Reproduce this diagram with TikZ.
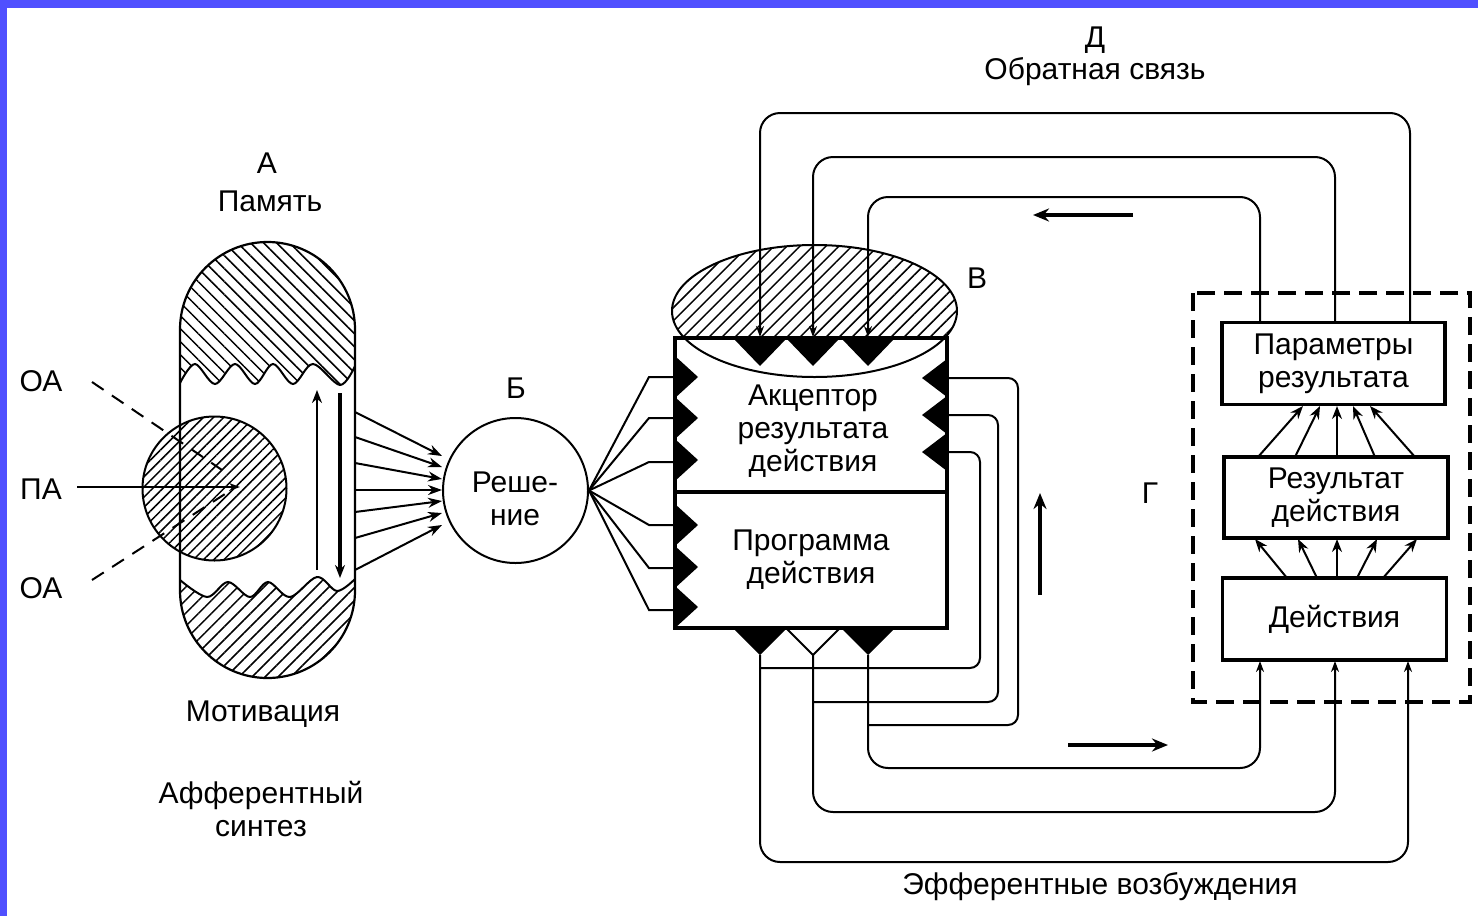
\documentclass[tikz,border=0pt]{standalone}
\usepackage{fontspec}
\setmainfont{Liberation Sans}
\usetikzlibrary{arrows.meta,patterns.meta}
\definecolor{frameblue}{RGB}{80,80,255}
\begin{document}
\begin{tikzpicture}[x=0.5pt,y=-0.5pt,
  every node/.style={font=\fontsize{15}{16.5}\selectfont},
  lbl/.style={align=center,inner sep=0pt},
  ln/.style={line width=1pt},
  thk/.style={line width=1.8pt},
  tipS/.style={-{Stealth[length=6.5pt,width=5pt]}},
  tipT/.style={-{Stealth[length=5.5pt,width=4pt]}},
  bigarrow/.style={line width=1.8pt,-{Stealth[length=8pt,width=6.5pt]}},
  rbox/.style={draw,line width=1.75pt,inner sep=0pt,align=center},
  hatchNW/.style={pattern={Lines[angle=-45,distance=4.6pt,line width=0.75pt]}},
  hatchNE/.style={pattern={Lines[angle=45,distance=4.6pt,line width=0.75pt]}},
  hatchC/.style={pattern={Lines[angle=45,distance=3.6pt,line width=0.75pt]}},
  dashbox/.style={draw,line width=2pt,dash pattern=on 9pt off 4.5pt},
  wire/.style={ln,rounded corners=10pt},
  wireS/.style={ln,rounded corners=5pt},
]
\useasboundingbox (0,0) rectangle (1478,916);
\fill[frameblue] (0,0) rectangle (1478,8);
\fill[frameblue] (0,0) rectangle (7,916);

% ---------- A: memory / motivation capsule ----------
\node[circle,draw,line width=1pt,hatchC,minimum size=72pt,inner sep=0pt] (pa) at (214.5,488.5) {};
\fill[hatchNW] plot[smooth,tension=0.55] coordinates {(180,383) (195,364) (215,384) (235,364) (255,384) (273,364) (293,384) (313,364) (340,385) (355,366)} -- (355,329.5) arc[start angle=0,end angle=-180,radius=87.5] -- cycle;
\fill[hatchNE] plot[smooth,tension=0.55] coordinates {(180,580) (207,597) (228,582) (250,597) (268,582) (290,597) (317,577) (337,591) (355,579)} -- (355,590.5) arc[start angle=0,end angle=180,radius=87.5] -- cycle;
\draw[line width=1.1pt] (180,329.5) arc[start angle=180,end angle=360,radius=87.5] -- (355,590.5) arc[start angle=0,end angle=180,radius=87.5] -- cycle;
\draw[ln] plot[smooth,tension=0.55] coordinates {(180,383) (195,364) (215,384) (235,364) (255,384) (273,364) (293,384) (313,364) (340,385) (355,366)};
\draw[ln] plot[smooth,tension=0.55] coordinates {(180,580) (207,597) (228,582) (250,597) (268,582) (290,597) (317,577) (337,591) (355,579)};
\draw[ln,tipS] (317,570) -- (317,390);
\draw[thk,tipS] (340,393) -- (340,578);

\node[lbl] (alab) at (267,163) {А};
\node[lbl] (mem) at (270,201) {Память};
\node[lbl] (mot) at (263,714) {Мотивация};
\node[lbl] (aff) at (261,809) {Афферентный\\синтез};

\node[lbl] (oa1) at (41,381) {ОА};
\node[lbl] (pal) at (41,489) {ПА};
\node[lbl] (oa2) at (41,588) {ОА};
\coordinate (d1s) at (92,382);
\coordinate (d1e) at (222,470);
\coordinate (d2s) at (92,580);
\coordinate (d2e) at (225,494);
\draw[ln,dash pattern=on 7pt off 5pt] (d1s) -- (d1e);
\draw[ln,dash pattern=on 7pt off 5pt] (d2s) -- (d2e);
\draw[ln,tipT] (77,487) -- (240,487);

% ---------- B: decision ----------
\foreach \a/\b in {412/456,437/467,463/479,490/490,512/501,538/513,570/525}
  \draw[ln,-{Stealth[length=7pt,width=5pt]}] (355,\a) -- (442,\b);
\node[circle,draw,line width=1pt,minimum size=72.5pt,inner sep=0pt] (b) at (515.5,490.5) {};
\node[lbl] (btxt) at (515,499) {Реше-\\ние};
\node[lbl] (blab) at (516,388) {Б};
\foreach \y in {377,418,462,525,568,610}
  \draw[ln] (b.east) -- (649,\y) -- (675,\y);

% ---------- V: acceptor ----------
\begin{scope}
  \clip (660,230) rectangle (970,338);
  \fill[hatchNE] (814.5,311) ellipse[x radius=142.5,y radius=66];
\end{scope}
\draw[ln] (814.5,311) ellipse[x radius=142.5,y radius=66];
\node[lbl] (vlab) at (977,278) {В};

\node[rbox,minimum width=136pt,minimum height=77pt] (acc) at (811,415) {};
\node[rbox,minimum width=136pt,minimum height=68pt] (prog) at (811,560) {Программа\\действия};
\node[lbl] (acctxt) at (813,431) {Акцептор\\результата\\действия};

\foreach \y in {377,418,460,525,567,607}
  \fill (675,{\y-21}) -- (698,\y) -- (675,{\y+21}) -- cycle;
\foreach \y in {378,415,452}
  \fill (947,{\y-19}) -- (922,\y) -- (947,{\y+19}) -- cycle;
\foreach \x in {760,813,868}
  \fill ({\x-27},338) -- (\x,366) -- ({\x+27},338) -- cycle;
\foreach \x in {760,868}
  \fill ({\x-27},628) -- (\x,655) -- ({\x+27},628) -- cycle;
\draw[ln] (786,628) -- (813,655) -- (840,628);

% ---------- G: results ----------
\draw[dashbox] (1193,293) rectangle (1470,702);
\node[lbl] (glab) at (1150,493) {Г};
\node[rbox,minimum width=111.5pt,minimum height=41pt] (par) at (1333.5,363.5) {Параметры\\результата};
\node[rbox,minimum width=112pt,minimum height=40.5pt] (res) at (1336,497.5) {Результат\\действия};
\node[rbox,minimum width=112pt,minimum height=41pt] (act) at (1334.5,619) {Действия};
\foreach \a/\b in {1258/1303,1295/1320,1337/1337,1375/1353,1415/1370}
  \draw[ln,tipS] (\a,457) -- (\b,406);
\foreach \a/\b in {1287/1255,1317/1298,1337/1337,1357/1377,1383/1417}
  \draw[ln,tipS] (\a,578) -- (\b,539);

% ---------- D: feedback ----------
\draw[wire,tipT] (1410,322) -- (1410,113) -- (760,113) -- (760,337);
\draw[wire,tipT] (1335,322) -- (1335,157) -- (813,157) -- (813,337);
\draw[wire,tipT] (1260,322) -- (1260,197) -- (868,197) -- (868,337);
\node[lbl] (dlab) at (1095,40) {Д};
\node[lbl] (fb) at (1095,72) {Обратная связь};
\draw[bigarrow] (1133,215) -- (1033,215);

% ---------- efferent ----------
\draw[wire,tipT] (868,655) -- (868,768) -- (1260,768) -- (1260,661);
\draw[wire,tipT] (813,655) -- (813,812) -- (1335,812) -- (1335,661);
\draw[wire,tipT] (760,655) -- (760,862) -- (1408,862) -- (1408,661);
\draw[wireS] (947,378) -- (1018,378) -- (1018,725) -- (868,725);
\draw[wireS] (947,415) -- (998,415) -- (998,702) -- (813,702);
\draw[wireS] (947,452) -- (980,452) -- (980,668) -- (760,668);
\draw[bigarrow] (1068,745) -- (1168,745);
\draw[bigarrow] (1040,595) -- (1040,493);
\node[lbl] (eff) at (1100,887) {Эфферентные возбуждения};
\end{tikzpicture}
\end{document}
